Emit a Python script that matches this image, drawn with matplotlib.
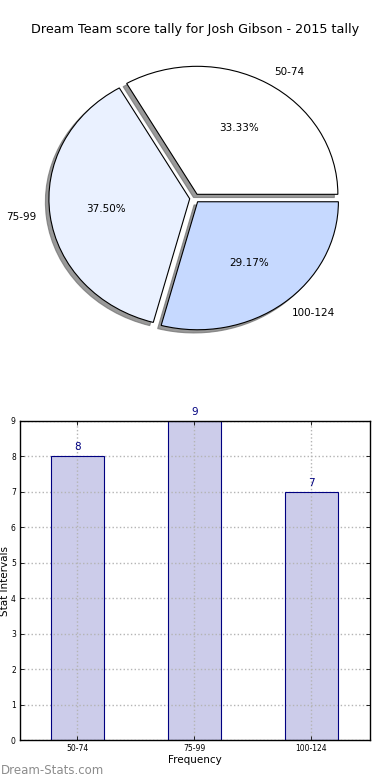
import matplotlib
matplotlib.use('Agg')
import matplotlib.pyplot as plt

# score intervals and how many times each came up
intervals = ['50-74', '75-99', '100-124']
counts = [8, 9, 7]
pie_colors = ['#ffffff', '#eaf1ff', '#c6d9ff']

fig = plt.figure(figsize=(3.9, 7.8), dpi=100)

fig.text(0.5, 1 - 30 / 780, 'Dream Team score tally for Josh Gibson - 2015 tally',
         ha='center', va='center', fontsize=9.2)

# pie on top
ax1 = fig.add_axes([18.6 / 390, 1 - 358.2 / 780, 352 / 390, 320 / 780])
wedges, texts, autotexts = ax1.pie(counts, labels=intervals, colors=pie_colors,
                                   explode=[0.035] * 3, startangle=0,
                                   autopct='%.2f%%',
                                   shadow={'ox': -0.018, 'oy': -0.018, 'facecolor': '#6e6e6e',
                                           'edgecolor': '#6e6e6e', 'alpha': 0.7},
                                   wedgeprops={'edgecolor': 'black', 'linewidth': 0.8},
                                   textprops={'fontsize': 7.5})
ax1.set_aspect('auto')
ax1.set_xlim(-1.25, 1.25)
ax1.set_ylim(-1.25, 1.25)

# bars below: fill under the grid, outline on top of it
ax2 = fig.add_axes([20 / 390, 40 / 780, 350 / 390, 319 / 780])
pos = list(range(len(intervals)))
ax2.bar(pos, counts, width=0.45, color='#ccccea', linewidth=0, zorder=1)
ax2.bar(pos, counts, width=0.45, fill=False, edgecolor='#000080', linewidth=0.8, zorder=2.7)
for p, c in zip(pos, counts):
    ax2.text(p, c + 0.12, str(c), ha='center', va='bottom', color='#000080', fontsize=7.5)
ax2.set_xlim(-0.49, 2.5)
ax2.set_ylim(0, 9)
ax2.set_xticks(pos)
ax2.set_xticklabels(intervals)
ax2.set_yticks(range(10))
ax2.tick_params(labelsize=5.5, direction='in', top=True, right=True, length=3, width=0.6, pad=3)
ax2.set_axisbelow(False)
ax2.grid(True, linestyle=':', color='#b4b4b4', linewidth=1)
ax2.set_xlabel('Frequency', fontsize=7.5, labelpad=1)
ax2.set_ylabel('Stat Intervals', fontsize=7.5, labelpad=1)
for s in ax2.spines.values():
    s.set_linewidth(1)
    s.set_zorder(3)

fig.text(0.003, 1 - 770 / 780, 'Dream-Stats.com', ha='left', va='center',
         fontsize=8.5, color='#8c8c8c')

fig.savefig('out.png', dpi=100)
